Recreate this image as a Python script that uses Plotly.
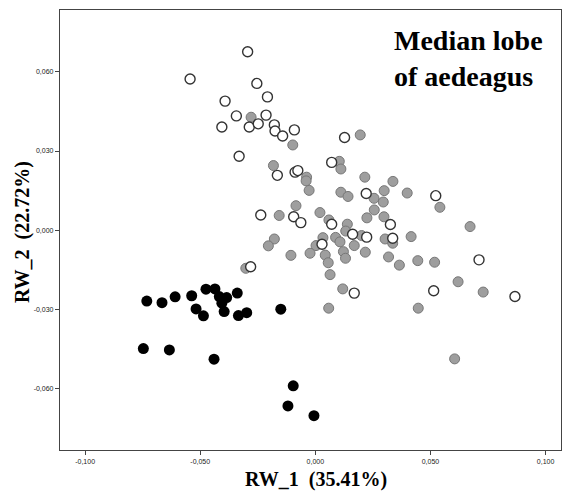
import plotly.graph_objects as go

# ---- data (RW_1, RW_2) ----
black_x = [-0.0732, -0.0666, -0.0609, -0.0537, -0.0475, -0.0436, -0.0417, -0.0385, -0.0406, -0.0339,
           -0.0518, -0.0486, -0.0396, -0.0334, -0.0298, -0.0150, -0.0747, -0.0634, -0.0440, -0.0096,
           -0.0119, -0.0006]
black_y = [-0.0268, -0.0274, -0.0252, -0.0248, -0.0223, -0.0222, -0.0251, -0.0255, -0.0276, -0.0238,
           -0.0298, -0.0324, -0.0308, -0.0323, -0.0312, -0.0299, -0.0448, -0.0453, -0.0488, -0.0589,
           -0.0665, -0.0702]

open_x = [-0.0294, -0.0544, -0.0254, -0.0392, -0.0208, -0.0343, -0.0214, -0.0406, -0.0287, -0.0248,
          -0.0178, -0.0175, -0.0142, -0.0091, -0.0331, 0.0127, -0.0165, -0.0088, -0.0076, 0.0071,
          -0.0237, -0.0094, -0.0063, 0.0071, 0.0162, 0.0223, 0.0029, 0.0221, 0.0523, 0.0326,
          0.0336, 0.0711, 0.0514, 0.0867, -0.0281, 0.0169]
open_y = [0.0676, 0.0573, 0.0556, 0.0489, 0.0505, 0.0433, 0.0436, 0.0391, 0.0391, 0.0403,
          0.0399, 0.0376, 0.0357, 0.0380, 0.0280, 0.0351, 0.0208, 0.0220, 0.0226, 0.0257,
          0.0058, 0.0051, 0.0029, 0.0023, -0.0015, -0.0026, -0.0053, 0.0139, 0.0131, 0.0022,
          -0.0030, -0.0112, -0.0229, -0.0251, -0.0138, -0.0238]

gray_x = [-0.0279, -0.0098, -0.0182, 0.0195, 0.0104, 0.0111, -0.0038, -0.0040, -0.0027, 0.0111,
          0.0142, 0.0215, 0.0337, 0.0299, 0.0399, 0.0255, 0.0295, 0.0541, 0.0256, 0.0298,
          0.0224, -0.0084, -0.0157, 0.0020, 0.0059, 0.0139, 0.0132, 0.0201, 0.0088, 0.0107,
          0.0169, 0.0122, 0.0131, 0.0217, 0.0033, 0.0003, -0.0023, -0.0106, 0.0043, 0.0056,
          0.0064, -0.0178, -0.0204, -0.0302, 0.0119, 0.0058, 0.0303, 0.0416, 0.0336, 0.0318,
          0.0365, 0.0445, 0.0518, 0.0672, 0.0620, 0.0729, 0.0447, 0.0605]
gray_y = [0.0428, 0.0323, 0.0245, 0.0361, 0.0261, 0.0232, 0.0201, 0.0187, 0.0151, 0.0144,
          0.0128, 0.0201, 0.0185, 0.0150, 0.0141, 0.0121, 0.0107, 0.0087, 0.0077, 0.0051,
          0.0047, 0.0093, 0.0056, 0.0067, 0.0039, 0.0023, -0.0003, -0.0020, -0.0027, -0.0044,
          -0.0058, -0.0081, -0.0106, -0.0083, -0.0028, -0.0058, -0.0087, -0.0095, -0.0094, -0.0123,
          -0.0168, -0.0033, -0.0059, -0.0144, -0.0222, -0.0295, -0.0033, -0.0024, -0.0049, -0.0101,
          -0.0132, -0.0115, -0.0121, 0.0014, -0.0195, -0.0234, -0.0295, -0.0487]

x_ticks = [-0.100, -0.050, 0.000, 0.050, 0.100]
x_ticktext = ["-0,100", "-0,050", "0,000", "0,050", "0,100"]
y_ticks = [-0.060, -0.030, 0.000, 0.030, 0.060]
y_ticktext = ["-0,060", "-0,030", "0,000", "0,030", "0,060"]

fig = go.Figure()
fig.add_trace(go.Scatter(x=gray_x, y=gray_y, mode="markers",
                         marker=dict(size=10, color="#9e9e9e", line=dict(color="#777777", width=1))))
fig.add_trace(go.Scatter(x=open_x, y=open_y, mode="markers",
                         marker=dict(size=10, color="white", line=dict(color="#333333", width=1.4))))
fig.add_trace(go.Scatter(x=black_x, y=black_y, mode="markers",
                         marker=dict(size=11, color="black", line=dict(width=0))))

axis_common = dict(showgrid=False, zeroline=False, showline=True, linecolor="#444444", linewidth=1.2,
                   mirror=True, ticks="outside", ticklen=4, tickcolor="#444444",
                   tickfont=dict(family="Liberation Sans, Arial", size=7, color="#222222"))
fig.update_xaxes(range=[-0.1109, 0.1067], tickvals=x_ticks, ticktext=x_ticktext, **axis_common)
fig.update_yaxes(range=[-0.0832, 0.0834], tickvals=y_ticks, ticktext=y_ticktext, **axis_common)

title_font = dict(family="Liberation Serif, Times New Roman", size=20, color="black")
fig.add_annotation(text="<b>RW_1  (35.41%)</b>", xref="paper", yref="paper", x=0.511, y=-0.068,
                   showarrow=False, font=title_font, xanchor="center", yanchor="middle")
fig.add_annotation(text="<b>RW_2  (22.72%)</b>", xref="paper", yref="paper", x=-0.076, y=0.495,
                   showarrow=False, font=title_font, xanchor="center", yanchor="middle", textangle=-90)
fig.add_annotation(text="<b>Median lobe<br>of aedeagus</b>", xref="paper", yref="paper",
                   x=0.663, y=0.970, showarrow=False, align="left", xanchor="left", yanchor="top",
                   font=dict(family="Liberation Serif, Times New Roman", size=28, color="black"))

fig.update_layout(width=563, height=497, margin=dict(l=60, r=2, t=10, b=47),
                  paper_bgcolor="white", plot_bgcolor="white", showlegend=False)
fig.write_html("out.html")
